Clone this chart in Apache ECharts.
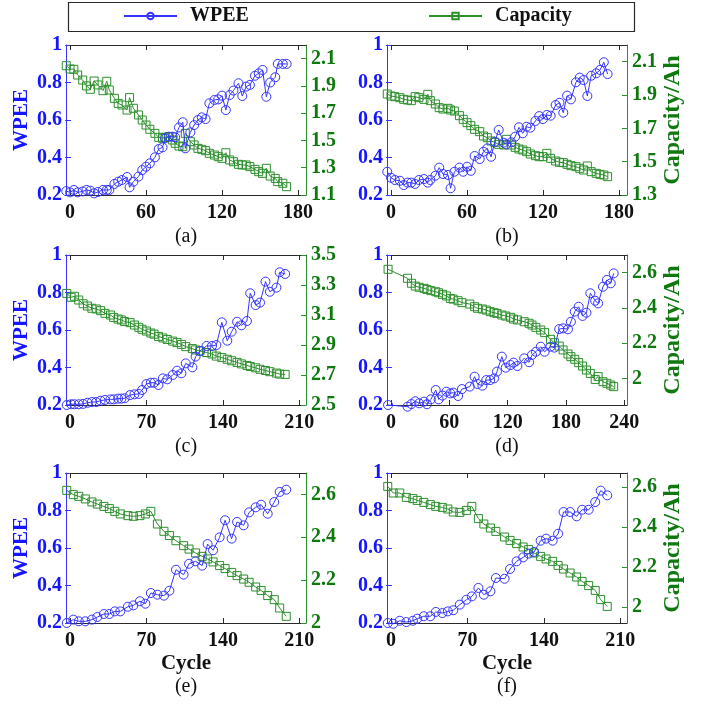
<!DOCTYPE html>
<html>
<head>
<meta charset="utf-8">
<script src="https://cdn.jsdelivr.net/npm/echarts@6/dist/echarts.min.js"></script>
<style>
  html, body { margin: 0; padding: 0; background: #ffffff; }
  #chart { width: 704px; height: 704px; }
</style>
</head>
<body>
<div id="chart"></div>
<script>
// ---- Cycle / WPEE / capacity readings for the six cells ----
const cycleA = [-3,0,3,6,10,13,16,19,22,26,29,31,35,38,41,45,47,50,54,57,60,63,67,70,73,75,78,81,83,86,89,91,95,98,101,104,107,110,114,117,120,123,126,129,133,136,139,142,146,149,152,155,158,162,164,168,171];
const wpeeA = [0.221,0.214,0.227,0.214,0.219,0.227,0.223,0.209,0.216,0.227,0.227,0.227,0.259,0.271,0.28,0.296,0.241,0.271,0.298,0.333,0.351,0.369,0.401,0.445,0.454,0.502,0.511,0.511,0.508,0.56,0.588,0.449,0.534,0.573,0.6,0.614,0.605,0.689,0.707,0.71,0.73,0.653,0.733,0.757,0.796,0.728,0.778,0.787,0.836,0.849,0.867,0.724,0.8,0.828,0.899,0.899,0.899];
const capacityA = [2.048,2.024,2.022,1.98,1.943,1.90,1.875,1.936,1.907,1.865,1.934,1.87,1.809,1.772,1.76,1.723,1.814,1.736,1.687,1.65,1.613,1.582,1.552,1.523,1.516,1.523,1.528,1.503,1.479,1.459,1.454,1.552,1.491,1.467,1.442,1.435,1.425,1.406,1.393,1.381,1.369,1.41,1.357,1.344,1.325,1.32,1.32,1.308,1.288,1.271,1.259,1.296,1.239,1.222,1.198,1.186,1.161];

const cycleB = [-3,0,3,7,10,13,16,19,22,26,29,31,35,38,41,45,47,50,54,57,60,63,66,70,73,76,79,82,85,89,91,95,98,101,104,107,110,114,117,120,123,126,130,133,136,139,142,146,149,152,155,158,162,165,168,171];
const wpeeB = [0.324,0.292,0.28,0.276,0.253,0.266,0.266,0.259,0.28,0.285,0.266,0.28,0.303,0.346,0.312,0.307,0.236,0.324,0.346,0.324,0.351,0.329,0.408,0.392,0.431,0.449,0.404,0.484,0.547,0.479,0.47,0.481,0.511,0.561,0.529,0.564,0.559,0.595,0.621,0.605,0.627,0.623,0.68,0.692,0.639,0.73,0.71,0.801,0.826,0.813,0.728,0.836,0.849,0.867,0.908,0.845];
const capacityB = [1.906,1.894,1.89,1.884,1.874,1.87,1.866,1.89,1.884,1.874,1.904,1.866,1.846,1.824,1.816,1.82,1.81,1.804,1.776,1.754,1.734,1.716,1.694,1.68,1.654,1.644,1.624,1.616,1.604,1.6,1.634,1.6,1.586,1.576,1.57,1.56,1.546,1.536,1.53,1.53,1.55,1.52,1.504,1.496,1.494,1.484,1.476,1.47,1.46,1.45,1.474,1.44,1.43,1.424,1.42,1.41];

const cycleC = [-3,1,4,8,12,16,20,24,28,32,37,40,44,47,50,55,59,63,66,70,74,77,81,85,89,94,98,102,106,112,115,119,125,130,134,139,144,148,153,157,162,165,170,174,179,183,189,192,197];
const wpeeC = [0.2,0.204,0.204,0.204,0.206,0.212,0.216,0.216,0.223,0.227,0.23,0.23,0.234,0.234,0.236,0.253,0.257,0.259,0.28,0.312,0.319,0.319,0.307,0.342,0.337,0.36,0.383,0.369,0.422,0.401,0.458,0.488,0.515,0.515,0.52,0.641,0.543,0.591,0.644,0.625,0.648,0.796,0.733,0.746,0.858,0.804,0.826,0.908,0.899];
const capacityC = [3.244,3.218,3.225,3.20,3.175,3.16,3.145,3.14,3.129,3.111,3.10,3.084,3.073,3.067,3.056,3.049,3.033,3.018,3.005,2.993,2.98,2.972,2.957,2.947,2.937,2.926,2.916,2.904,2.889,2.876,2.867,2.86,2.85,2.84,2.826,2.816,2.805,2.795,2.784,2.774,2.764,2.757,2.748,2.738,2.73,2.722,2.713,2.706,2.704];

const cycleD = [-3,17,21,25,29,34,37,41,46,49,53,57,61,64,69,73,81,86,89,94,98,102,106,109,114,118,123,126,130,137,142,145,149,154,158,164,168,173,177,182,185,189,193,197,201,205,210,213,218,222,226,229];
const wpeeD = [0.2,0.191,0.205,0.22,0.209,0.218,0.204,0.23,0.28,0.23,0.25,0.271,0.262,0.266,0.248,0.285,0.298,0.351,0.312,0.303,0.333,0.333,0.342,0.378,0.458,0.399,0.413,0.426,0.408,0.449,0.428,0.467,0.484,0.511,0.484,0.511,0.506,0.605,0.609,0.604,0.644,0.698,0.724,0.675,0.692,0.796,0.756,0.742,0.831,0.867,0.849,0.902];
const capacityD = [2.619,2.568,2.54,2.524,2.517,2.511,2.505,2.498,2.492,2.486,2.477,2.468,2.454,2.45,2.441,2.43,2.422,2.407,2.398,2.394,2.388,2.379,2.373,2.369,2.36,2.354,2.347,2.337,2.332,2.322,2.313,2.303,2.29,2.275,2.26,2.222,2.203,2.184,2.162,2.139,2.124,2.109,2.09,2.071,2.048,2.029,1.995,2.011,1.982,1.973,1.963,1.954];

const cycleE = [-3,3,8,14,20,25,31,36,41,46,53,58,64,69,74,80,86,91,97,104,109,115,121,126,131,137,142,148,153,159,164,170,175,181,187,192,198];
const wpeeE = [0.2,0.218,0.209,0.209,0.218,0.232,0.248,0.248,0.262,0.262,0.287,0.294,0.316,0.303,0.36,0.351,0.346,0.372,0.484,0.458,0.516,0.529,0.506,0.621,0.588,0.657,0.748,0.65,0.739,0.721,0.79,0.817,0.831,0.783,0.845,0.899,0.911];
const capacityE = [2.619,2.599,2.591,2.579,2.565,2.555,2.544,2.534,2.521,2.509,2.501,2.498,2.501,2.509,2.521,2.462,2.428,2.408,2.384,2.361,2.345,2.327,2.311,2.299,2.285,2.268,2.254,2.236,2.221,2.205,2.19,2.168,2.152,2.128,2.109,2.07,2.031];

const cycleF = [-3,2,8,14,20,24,30,36,41,47,52,57,63,69,74,80,85,91,96,104,109,115,121,126,131,137,142,148,153,158,164,170,175,181,187,192,198];
const wpeeF = [0.2,0.196,0.212,0.205,0.212,0.223,0.236,0.236,0.259,0.253,0.262,0.268,0.298,0.324,0.342,0.387,0.351,0.369,0.44,0.436,0.488,0.529,0.55,0.57,0.579,0.639,0.65,0.639,0.676,0.792,0.792,0.769,0.804,0.804,0.845,0.906,0.881];
const capacityF = [2.603,2.57,2.57,2.548,2.542,2.533,2.523,2.512,2.503,2.498,2.49,2.475,2.473,2.483,2.503,2.442,2.415,2.395,2.378,2.35,2.333,2.317,2.3,2.287,2.27,2.253,2.24,2.228,2.208,2.19,2.17,2.15,2.128,2.107,2.083,2.037,2.003];

// ---- Tick labels ----
const wpeeTicks = [0.2, 0.4, 0.6, 0.8, 1];
const cycleTicks180 = [0, 60, 120, 180];
const cycleTicks210 = [0, 70, 140, 210];
const cycleTicks240 = [0, 60, 120, 180, 240];
const capTicksA = [1.1, 1.3, 1.5, 1.7, 1.9, 2.1];
const capTicksB = [1.3, 1.5, 1.7, 1.9, 2.1];
const capTicksC = [2.5, 2.7, 2.9, 3.1, 3.3, 3.5];
const capTicks2 = [2, 2.2, 2.4, 2.6];

// ---- Layout and styling ----
const FONT = '"Liberation Serif", "Times New Roman", serif';
const BLUE_TEXT = '#1515ff';
const BLUE_LINE = '#3535ff';
const GREEN_TEXT = '#0f780f';
const GREEN_LINE = '#2b8f2b';
const BOX = '#2a2a2a';
const W = 240, H = 150;

const panels = [
  { cyc: cycleA, wpee: wpeeA, cap: capacityA, left: 66,  top: 45,  xMin: -3.2, xMax: 186.3, xTicks: cycleTicks180, capMin: 1.1,  capMax: 2.2,  capTicks: capTicksA, leftName: true,  rightName: false, bottomName: false, tag: '(a)', tagY: 237 },
  { cyc: cycleB, wpee: wpeeB, cap: capacityB, left: 387, top: 45,  xMin: -3.2, xMax: 186.3, xTicks: cycleTicks180, capMin: 1.3,  capMax: 2.2,  capTicks: capTicksB, leftName: false, rightName: true,  bottomName: false, tag: '(b)', tagY: 237 },
  { cyc: cycleC, wpee: wpeeC, cap: capacityC, left: 66,  top: 255, xMin: -3.7, xMax: 216.1, xTicks: cycleTicks210, capMin: 2.5,  capMax: 3.5,  capTicks: capTicksC, leftName: true,  rightName: false, bottomName: false, tag: '(c)', tagY: 447 },
  { cyc: cycleD, wpee: wpeeD, cap: capacityD, left: 387, top: 255, xMin: -4.1, xMax: 242.7, xTicks: cycleTicks240, capMin: 1.85, capMax: 2.7,  capTicks: capTicks2, leftName: false, rightName: true,  bottomName: false, tag: '(d)', tagY: 447 },
  { cyc: cycleE, wpee: wpeeE, cap: capacityE, left: 66,  top: 473, xMin: -3.7, xMax: 216.1, xTicks: cycleTicks210, capMin: 2.0,  capMax: 2.7,  capTicks: capTicks2, leftName: true,  rightName: false, bottomName: true,  tag: '(e)', tagY: 687 },
  { cyc: cycleF, wpee: wpeeF, cap: capacityF, left: 387, top: 473, xMin: -3.7, xMax: 216.1, xTicks: cycleTicks210, capMin: 1.92, capMax: 2.67, capTicks: capTicks2, leftName: false, rightName: true,  bottomName: true,  tag: '(f)', tagY: 687 }
];

const labelFont = { fontFamily: FONT, fontWeight: 'bold', fontSize: 20 };

const grid = [], xAxis = [], yAxis = [], series = [], graphic = [];

graphic.push({
  type: 'rect', z: 0,
  shape: { x: 68.5, y: 2.5, width: 566, height: 29 },
  style: { fill: '#ffffff', stroke: BOX, lineWidth: 1.2 }
});

panels.forEach((p, i) => {
  grid.push({ left: p.left, top: p.top, width: W, height: H, containLabel: false });

  // bottom cycle axis
  xAxis.push({
    type: 'value', gridIndex: i, position: 'bottom', min: p.xMin, max: p.xMax,
    axisLine: { show: true, onZero: false, lineStyle: { color: BOX, width: 1 } },
    axisTick: { show: true, inside: true, length: 5, customValues: p.xTicks, lineStyle: { color: BOX } },
    axisLabel: Object.assign({ show: true, customValues: p.xTicks, margin: 8, color: '#111' }, labelFont),
    splitLine: { show: false },
    name: p.bottomName ? 'Cycle' : '',
    nameLocation: 'middle', nameGap: 30,
    nameTextStyle: Object.assign({ color: '#111' }, labelFont, { fontSize: 21 })
  });
  // top frame edge
  xAxis.push({
    type: 'value', gridIndex: i, position: 'top', min: p.xMin, max: p.xMax,
    axisLine: { show: true, onZero: false, lineStyle: { color: BOX, width: 1 } },
    axisTick: { show: true, inside: true, length: 5, customValues: p.xTicks, lineStyle: { color: BOX } },
    axisLabel: { show: false },
    splitLine: { show: false }
  });

  // left WPEE axis
  yAxis.push({
    type: 'value', gridIndex: i, position: 'left', min: 0.2, max: 1,
    axisLine: { show: true, onZero: false, lineStyle: { color: BLUE_LINE, width: 1 } },
    axisTick: { show: true, inside: true, length: 5, customValues: wpeeTicks, lineStyle: { color: BLUE_LINE } },
    axisLabel: Object.assign({ show: true, customValues: wpeeTicks, margin: 4, color: BLUE_TEXT }, labelFont),
    splitLine: { show: false },
    name: p.leftName ? 'WPEE' : '',
    nameLocation: 'middle', nameGap: 34,
    nameTextStyle: Object.assign({ color: BLUE_TEXT }, labelFont, { fontSize: 21 })
  });
  // right capacity axis
  yAxis.push({
    type: 'value', gridIndex: i, position: 'right', min: p.capMin, max: p.capMax,
    axisLine: { show: true, onZero: false, lineStyle: { color: GREEN_LINE, width: 1 } },
    axisTick: { show: true, inside: true, length: 5, customValues: p.capTicks, lineStyle: { color: GREEN_LINE } },
    axisLabel: Object.assign({ show: true, customValues: p.capTicks, margin: 5, color: GREEN_TEXT }, labelFont),
    splitLine: { show: false },
    name: p.rightName ? 'Capacity/Ah' : '',
    nameLocation: 'middle', nameGap: 32,
    nameTextStyle: Object.assign({ color: GREEN_TEXT }, labelFont, { fontSize: 24 })
  });
  // WPEE ticks mirrored on the right edge
  yAxis.push({
    type: 'value', gridIndex: i, position: 'right', min: 0.2, max: 1,
    axisLine: { show: false },
    axisTick: { show: true, inside: true, length: 5, customValues: wpeeTicks, lineStyle: { color: BLUE_LINE } },
    axisLabel: { show: false },
    splitLine: { show: false }
  });

  series.push({
    name: 'WPEE', type: 'line', xAxisIndex: 2 * i, yAxisIndex: 3 * i,
    data: p.cyc.map((c, k) => [c, p.wpee[k]]),
    symbol: 'circle', symbolSize: 9, showSymbol: true, showAllSymbol: true, clip: false,
    itemStyle: { color: 'rgba(255,255,255,0)', borderColor: BLUE_LINE, borderWidth: 1 },
    lineStyle: { color: BLUE_LINE, width: 1 },
    emphasis: { disabled: true }, z: 3
  });
  series.push({
    name: 'Capacity', type: 'line', xAxisIndex: 2 * i, yAxisIndex: 3 * i + 1,
    data: p.cyc.map((c, k) => [c, p.cap[k]]),
    symbol: 'rect', symbolSize: 8, showSymbol: true, showAllSymbol: true, clip: false,
    itemStyle: { color: 'rgba(255,255,255,0)', borderColor: GREEN_LINE, borderWidth: 1 },
    lineStyle: { color: GREEN_LINE, width: 1 },
    emphasis: { disabled: true }, z: 2
  });

  graphic.push({
    type: 'text', x: p.left + W / 2, y: p.tagY,
    style: { text: p.tag, fill: '#111', fontFamily: FONT, fontSize: 20, align: 'center', verticalAlign: 'middle' }
  });
});

const legendText = Object.assign({ color: '#111', padding: [0, 0, 0, 8] }, labelFont);

const chart = echarts.init(document.getElementById('chart'), null, { renderer: 'canvas' });
chart.setOption({
  backgroundColor: '#ffffff',
  animation: false,
  grid, xAxis, yAxis, series, graphic,
  legend: [
    { data: ['WPEE'], left: 123, top: 6, padding: 0, itemWidth: 53, itemHeight: 8, selectedMode: false, textStyle: legendText },
    { data: ['Capacity'], left: 428, top: 6, padding: 0, itemWidth: 53, itemHeight: 8, selectedMode: false, textStyle: legendText }
  ]
});
</script>
</body>
</html>
